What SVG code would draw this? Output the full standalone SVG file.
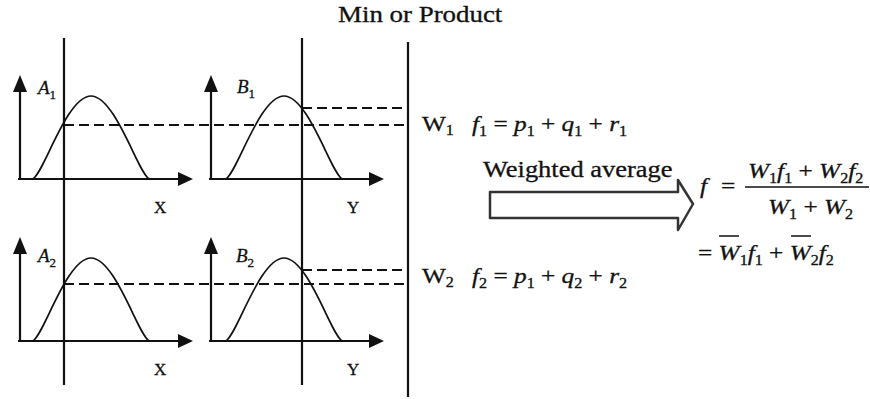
<svg xmlns="http://www.w3.org/2000/svg" width="870" height="399" viewBox="0 0 870 399">
<style>
  text { font-family: "Liberation Serif", "Times New Roman", serif; fill: #111; stroke: #111; stroke-width: 0.3; }
  .t { font-size: 23px; }
  .m { font-size: 22px; }
  .i { font-style: italic; }
  .s { font-size: 14px; font-style: normal; }
  .lab { font-size: 19px; font-style: italic; }
  .lsub { font-size: 13px; font-style: normal; }
  .ax { font-size: 17px; }
  .axis { stroke: #111; stroke-width: 2.2; fill: none; }
  .head { fill: #111; stroke: none; }
  .curve { stroke: #111; stroke-width: 1.7; fill: none; }
  .vline { stroke: #111; stroke-width: 2.2; fill: none; }
  .dash { stroke: #111; stroke-width: 2; stroke-dasharray: 10 5; fill: none; }
</style>
<defs>
  <g id="plot">
    <line class="axis" x1="0" y1="0" x2="0" y2="-89"/>
    <polygon class="head" points="0,-104 -7,-87 7,-87"/>
    <line class="axis" x1="-2" y1="0" x2="160" y2="0"/>
    <polygon class="head" points="173,0 158,-7 158,7"/>
  </g>
</defs>

<g id="title">
  <text class="t" transform="translate(338 22) scale(1.17 1)">Min or Product</text>
</g>

<g id="panel-A1">
  <use href="#plot" x="20" y="179"/>
  <path class="curve" d="M32 179 C42 179 66 96 91 96 C116 96 140 179 150 179"/>
  <text class="lab" x="38" y="94">A<tspan class="lsub" dy="5">1</tspan></text>
  <text class="ax" x="154" y="213">X</text>
</g>

<g id="panel-B1">
  <use href="#plot" x="211" y="179"/>
  <path class="curve" d="M225 179 C235 179 259 96 284 96 C309 96 333 179 343 179"/>
  <text class="lab" x="237" y="93">B<tspan class="lsub" dy="5">1</tspan></text>
  <text class="ax" x="347" y="213">Y</text>
</g>

<g id="panel-A2">
  <use href="#plot" x="20" y="341"/>
  <path class="curve" d="M32 341 C42 341 66 258 91 258 C116 258 140 341 150 341"/>
  <text class="lab" x="38" y="262">A<tspan class="lsub" dy="5">2</tspan></text>
  <text class="ax" x="154" y="375">X</text>
</g>

<g id="panel-B2">
  <use href="#plot" x="211" y="341"/>
  <path class="curve" d="M225 341 C235 341 259 258 284 258 C309 258 333 341 343 341"/>
  <text class="lab" x="236" y="262">B<tspan class="lsub" dy="5">2</tspan></text>
  <text class="ax" x="347" y="375">Y</text>
</g>

<g id="connectors">
  <line class="vline" x1="64" y1="38" x2="64" y2="385"/>
  <line class="vline" x1="302" y1="38" x2="302" y2="385" stroke-width="2.8"/>
  <line class="vline" x1="408" y1="42" x2="408" y2="397"/>
  <line class="dash" x1="64" y1="125" x2="405" y2="125"/>
  <line class="dash" x1="302" y1="108" x2="405" y2="108"/>
  <line class="dash" x1="64" y1="284" x2="405" y2="284"/>
  <line class="dash" x1="302" y1="270" x2="405" y2="270"/>
</g>

<g id="rule-1">
  <text class="m" transform="translate(422 131) scale(1.15 1)">W<tspan class="s" dy="4">1</tspan></text>
  <text class="m" transform="translate(472 131) scale(1.15 1)"><tspan class="i">f</tspan><tspan class="s" dy="5">1</tspan><tspan dy="-5"> = </tspan><tspan class="i">p</tspan><tspan class="s" dy="5">1</tspan><tspan dy="-5"> + </tspan><tspan class="i">q</tspan><tspan class="s" dy="5">1</tspan><tspan dy="-5"> + </tspan><tspan class="i">r</tspan><tspan class="s" dy="5">1</tspan></text>
</g>

<g id="rule-2">
  <text class="m" transform="translate(422 283) scale(1.15 1)">W<tspan class="s" dy="4">2</tspan></text>
  <text class="m" transform="translate(472 283) scale(1.15 1)"><tspan class="i">f</tspan><tspan class="s" dy="5">2</tspan><tspan dy="-5"> = </tspan><tspan class="i">p</tspan><tspan class="s" dy="5">1</tspan><tspan dy="-5"> + </tspan><tspan class="i">q</tspan><tspan class="s" dy="5">2</tspan><tspan dy="-5"> + </tspan><tspan class="i">r</tspan><tspan class="s" dy="5">2</tspan></text>
</g>

<g id="weighted-average">
  <text class="t" transform="translate(483 177) scale(1.15 1)">Weighted average</text>
  <path d="M490 192 H678 V180 L693 204 L678 230 V218 H490 Z" fill="#fff" stroke="#333" stroke-width="2.5" stroke-linejoin="round"/>
</g>

<g id="formula">
  <text class="m i" transform="translate(700 193) scale(1.15 1)">f</text>
  <text class="m" transform="translate(721 193) scale(1.15 1)">=</text>
  <text class="m" transform="translate(748 178) scale(1.15 1)"><tspan class="i">W</tspan><tspan class="s" dy="5">1</tspan><tspan class="i" dy="-5">f</tspan><tspan class="s" dy="5">1</tspan><tspan dy="-5"> + </tspan><tspan class="i">W</tspan><tspan class="s" dy="5">2</tspan><tspan class="i" dy="-5">f</tspan><tspan class="s" dy="5">2</tspan></text>
  <line x1="745" y1="187" x2="869" y2="187" stroke="#111" stroke-width="1.5"/>
  <text class="m" transform="translate(768 214) scale(1.15 1)"><tspan class="i">W</tspan><tspan class="s" dy="5">1</tspan><tspan dy="-5"> + </tspan><tspan class="i">W</tspan><tspan class="s" dy="5">2</tspan></text>
  <text class="m" transform="translate(698 260) scale(1.15 1)">= <tspan class="i">W</tspan><tspan class="s" dy="5">1</tspan><tspan class="i" dy="-5">f</tspan><tspan class="s" dy="5">1</tspan><tspan dy="-5"> + </tspan><tspan class="i">W</tspan><tspan class="s" dy="5">2</tspan><tspan class="i" dy="-5">f</tspan><tspan class="s" dy="5">2</tspan></text>
  <line x1="719" y1="236" x2="739" y2="236" stroke="#111" stroke-width="1.5"/>
  <line x1="791" y1="236" x2="811" y2="236" stroke="#111" stroke-width="1.5"/>
</g>
</svg>
